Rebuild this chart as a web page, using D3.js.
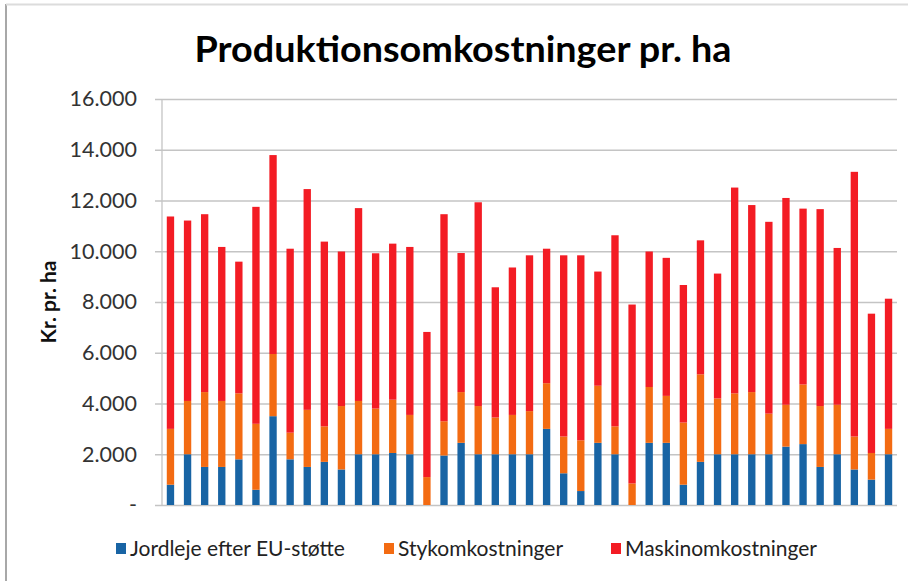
<!DOCTYPE html>
<html>
<head>
<meta charset="utf-8">
<title>Produktionsomkostninger pr. ha</title>
<script src="https://d3js.org/d3.v7.min.js"></script>
<style>
  body { margin: 0; background: #fff; }
  text { font-family: Lato, "Open Sans", sans-serif; }
</style>
</head>
<body>
<script>
// one entry per farm, 43 bars
var farms = d3.range(1, 44).map(function(i) { return "B" + i; });

var jordleje = [800, 2000, 1500, 1500, 1800, 600, 3500, 1800, 1500, 1700, 1400, 2000, 2000, 2050, 2000, 0,
  1950, 2450, 2000, 2000, 2000, 2000, 3000, 1250, 550, 2450, 2000, 0, 2450, 2450, 800, 1700, 2000, 2000,
  2000, 2000, 2300, 2400, 1500, 2000, 1400, 1000, 2000];
var stykomk = [2200, 2100, 2950, 2600, 2600, 2600, 2450, 1050, 2250, 1400, 2500, 2100, 1800, 2100, 1550, 1100,
  1350, 2000, 1900, 1450, 1550, 1700, 1800, 1450, 2000, 2250, 1100, 850, 2200, 1850, 2450, 3450, 2200, 2400,
  2450, 1600, 1650, 2350, 2400, 1950, 1300, 1050, 1000];
var maskinomk = [8370, 7110, 7010, 6070, 5190, 8550, 7840, 7250, 8700, 7280, 6090, 7600, 6120, 6150, 6620, 5720,
  8160, 5480, 8030, 5130, 5810, 6140, 5300, 7140, 7290, 4500, 7530, 7050, 5340, 5440, 5420, 5280, 4920, 8110,
  7370, 7560, 8150, 6930, 7760, 6180, 10430, 5490, 5130];

var seriesNames = ["Jordleje efter EU-støtte", "Stykomkostninger", "Maskinomkostninger"];
var seriesColors = ["#1864a4", "#f36b12", "#f31c24"];
var yTicks = [0, 2000, 4000, 6000, 8000, 10000, 12000, 14000, 16000];

var W = 908, H = 581;
var margin = { left: 162, right: 11, top: 99, bottom: 76 };

var svg = d3.select("body").append("svg").attr("width", W).attr("height", H);

// frame of the screenshot
svg.append("line").attr("x1", 6).attr("x2", 6).attr("y1", 4).attr("y2", H)
  .attr("stroke", "#a8a8a8").attr("stroke-width", 2);
svg.append("line").attr("x1", 6).attr("x2", W).attr("y1", 4.5).attr("y2", 4.5)
  .attr("stroke", "#dcdcdc").attr("stroke-width", 2);

var table = farms.map(function(f, i) {
  return { farm: f, j: jordleje[i], s: stykomk[i], m: maskinomk[i] };
});
var stack = d3.stack().keys(["j", "s", "m"])(table);

var x = d3.scaleBand().domain(farms)
  .range([margin.left, W - margin.right]).paddingInner(0.57).paddingOuter(0.28);
var y = d3.scaleLinear().domain([0, 16000]).range([H - margin.bottom, margin.top]);

var loc = d3.formatLocale({ decimal: ",", thousands: ".", grouping: [3], currency: ["", ""] });
var fmt = loc.format(",d");

// grid + axis
var yAxis = d3.axisLeft(y).tickValues(yTicks)
  .tickSize(-(W - margin.right - margin.left) - 7)
  .tickPadding(18)
  .tickFormat(function(d) { return d === 0 ? "-" : fmt(d); });

var gy = svg.append("g").attr("transform", "translate(" + (margin.left - 7) + ",0)").call(yAxis);
gy.select(".domain").remove();
gy.selectAll(".tick line").attr("stroke", "#c4c4c4").attr("stroke-width", 1.3);
gy.selectAll(".tick text").attr("font-size", 21.5).attr("fill", "#333");

svg.append("line").attr("x1", margin.left).attr("x2", margin.left)
  .attr("y1", y(16000)).attr("y2", y(0)).attr("stroke", "#c4c4c4").attr("stroke-width", 1.3);

// bars
svg.append("g").selectAll("g").data(stack).enter().append("g")
  .attr("fill", function(d, i) { return seriesColors[i]; })
  .selectAll("rect").data(function(d) { return d; }).enter().append("rect")
  .attr("x", function(d) { return x(d.data.farm); })
  .attr("width", x.bandwidth())
  .attr("y", function(d) { return y(d[1]); })
  .attr("height", function(d) { return y(d[0]) - y(d[1]); });

// title
svg.append("text").attr("x", 463).attr("y", 62).attr("text-anchor", "middle")
  .attr("font-size", 36).attr("font-weight", "bold").attr("fill", "#000")
  .attr("textLength", 537).attr("lengthAdjust", "spacingAndGlyphs")
  .text("Produktionsomkostninger pr. ha");

// y title
svg.append("text").attr("transform", "translate(56,302) rotate(-90)")
  .attr("text-anchor", "middle").attr("font-size", 21).attr("font-weight", "bold").attr("fill", "#111")
  .text("Kr. pr. ha");

// legend
var legX = [116, 384, 611];
var leg = svg.append("g").selectAll("g").data(seriesNames).enter().append("g")
  .attr("transform", function(d, i) { return "translate(" + legX[i] + ",549)"; });
leg.append("rect").attr("x", 0).attr("y", -6).attr("width", 10).attr("height", 11)
  .attr("fill", function(d, i) { return seriesColors[i]; });
leg.append("text").attr("x", 14).attr("dy", "0.35em").attr("font-size", 21).attr("fill", "#222")
  .text(function(d) { return d; });
</script>
</body>
</html>
